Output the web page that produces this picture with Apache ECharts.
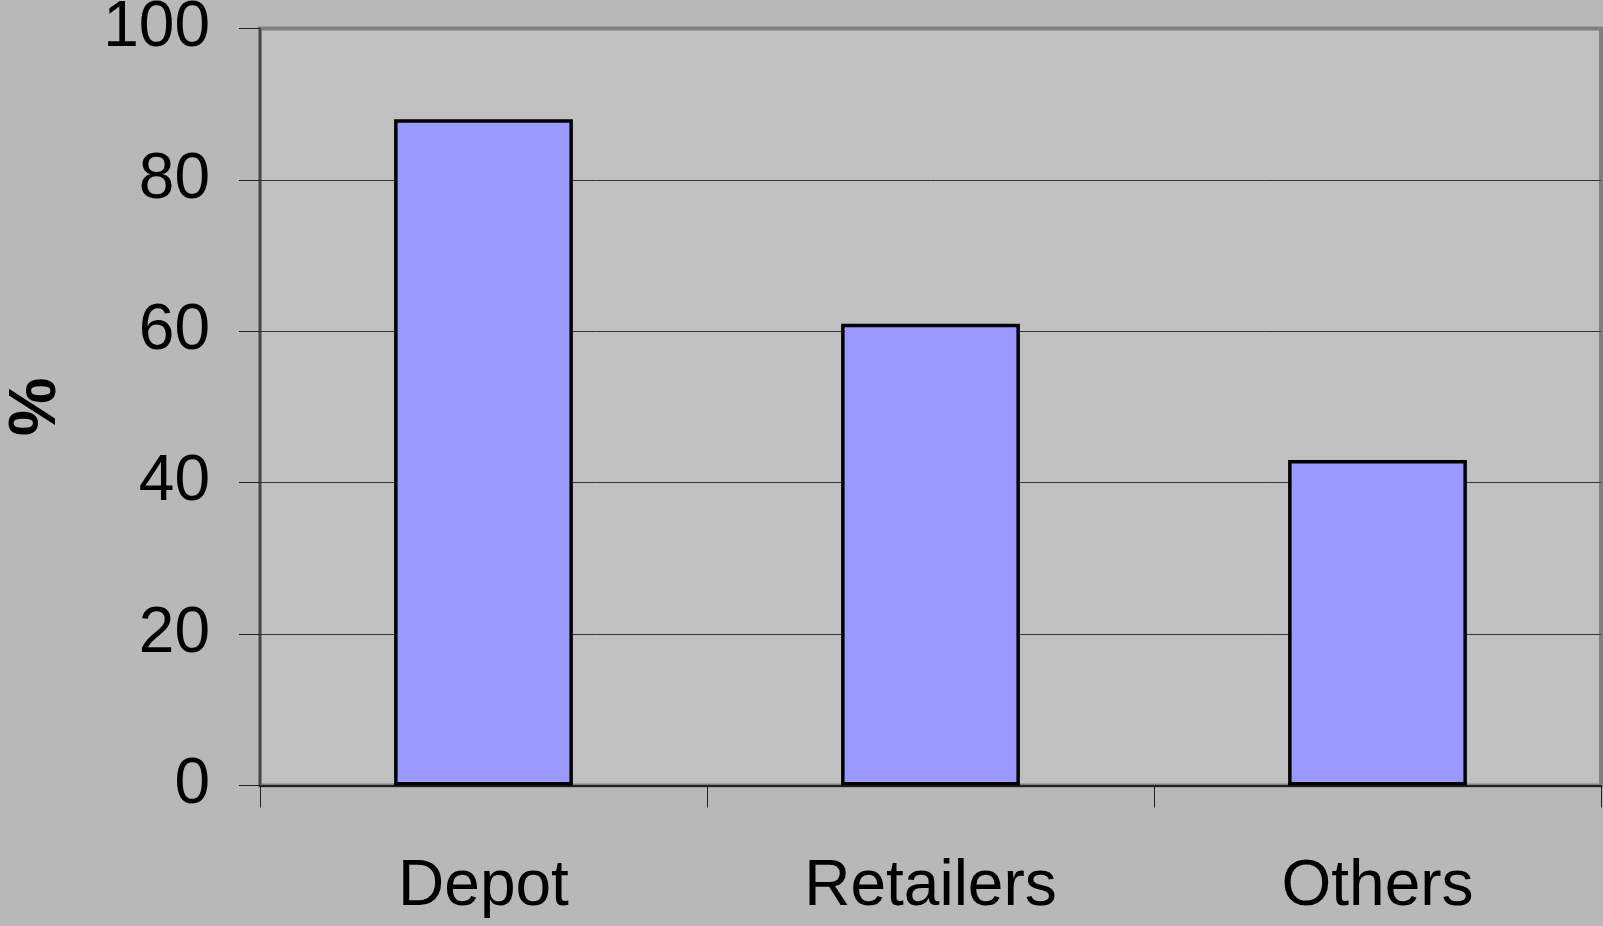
<!DOCTYPE html>
<html>
<head>
<meta charset="utf-8">
<style>
  html, body { margin: 0; padding: 0; background: #b8b8b8; }
  #chart { width: 1603px; height: 926px; }
</style>
<script src="https://cdn.jsdelivr.net/npm/echarts@6/dist/echarts.min.js"></script>
</head>
<body>
<div id="chart"></div>
<script>
// Share of respondents by outlet type
const categories = ['Depot', 'Retailers', 'Others'];
const shares = [88, 61, 43];
const yTicks = [0, 20, 40, 60, 80, 100];

const FONT = '"Liberation Sans", Arial, sans-serif';

const chart = echarts.init(document.getElementById('chart'), null, { renderer: 'canvas' });
chart.setOption({
  backgroundColor: '#b8b8b8',
  animation: false,
  grid: {
    left: 260, right: 2, top: 28.5, bottom: 140.5,
    outerBoundsMode: 'none',
    containLabel: false,
    show: true,
    backgroundColor: '#c0c0c0',
    borderColor: '#808080',
    borderWidth: 4
  },
  xAxis: {
    type: 'category',
    data: categories,
    boundaryGap: true,
    axisLine: { show: true, lineStyle: { color: '#222', width: 2 } },
    axisTick: { show: true, alignWithLabel: false, length: 22, lineStyle: { color: '#222', width: 1 } },
    axisLabel: { color: '#000', fontFamily: FONT, fontSize: 64, margin: 70 }
  },
  yAxis: {
    type: 'value',
    min: yTicks[0],
    max: yTicks[yTicks.length - 1],
    interval: yTicks[1] - yTicks[0],
    name: '%',
    nameLocation: 'middle',
    nameRotate: 90,
    nameGap: 190,
    nameTextStyle: { color: '#000', fontFamily: FONT, fontSize: 66, fontWeight: 'bold' },
    axisLine: { show: true, lineStyle: { color: '#444', width: 2 } },
    axisTick: { show: true, length: 21, lineStyle: { color: '#222', width: 1 } },
    axisLabel: { color: '#000', fontFamily: FONT, fontSize: 64, margin: 50 },
    splitLine: {
      show: true,
      lineStyle: { color: ['#333', '#333', '#333', '#333', '#333', 'rgba(0,0,0,0)'], width: 1 }
    }
  },
  series: [{
    type: 'bar',
    data: shares,
    barWidth: '40%',
    itemStyle: { color: '#9999ff', borderColor: '#000', borderWidth: 3.5 }
  }]
});
</script>
</body>
</html>
